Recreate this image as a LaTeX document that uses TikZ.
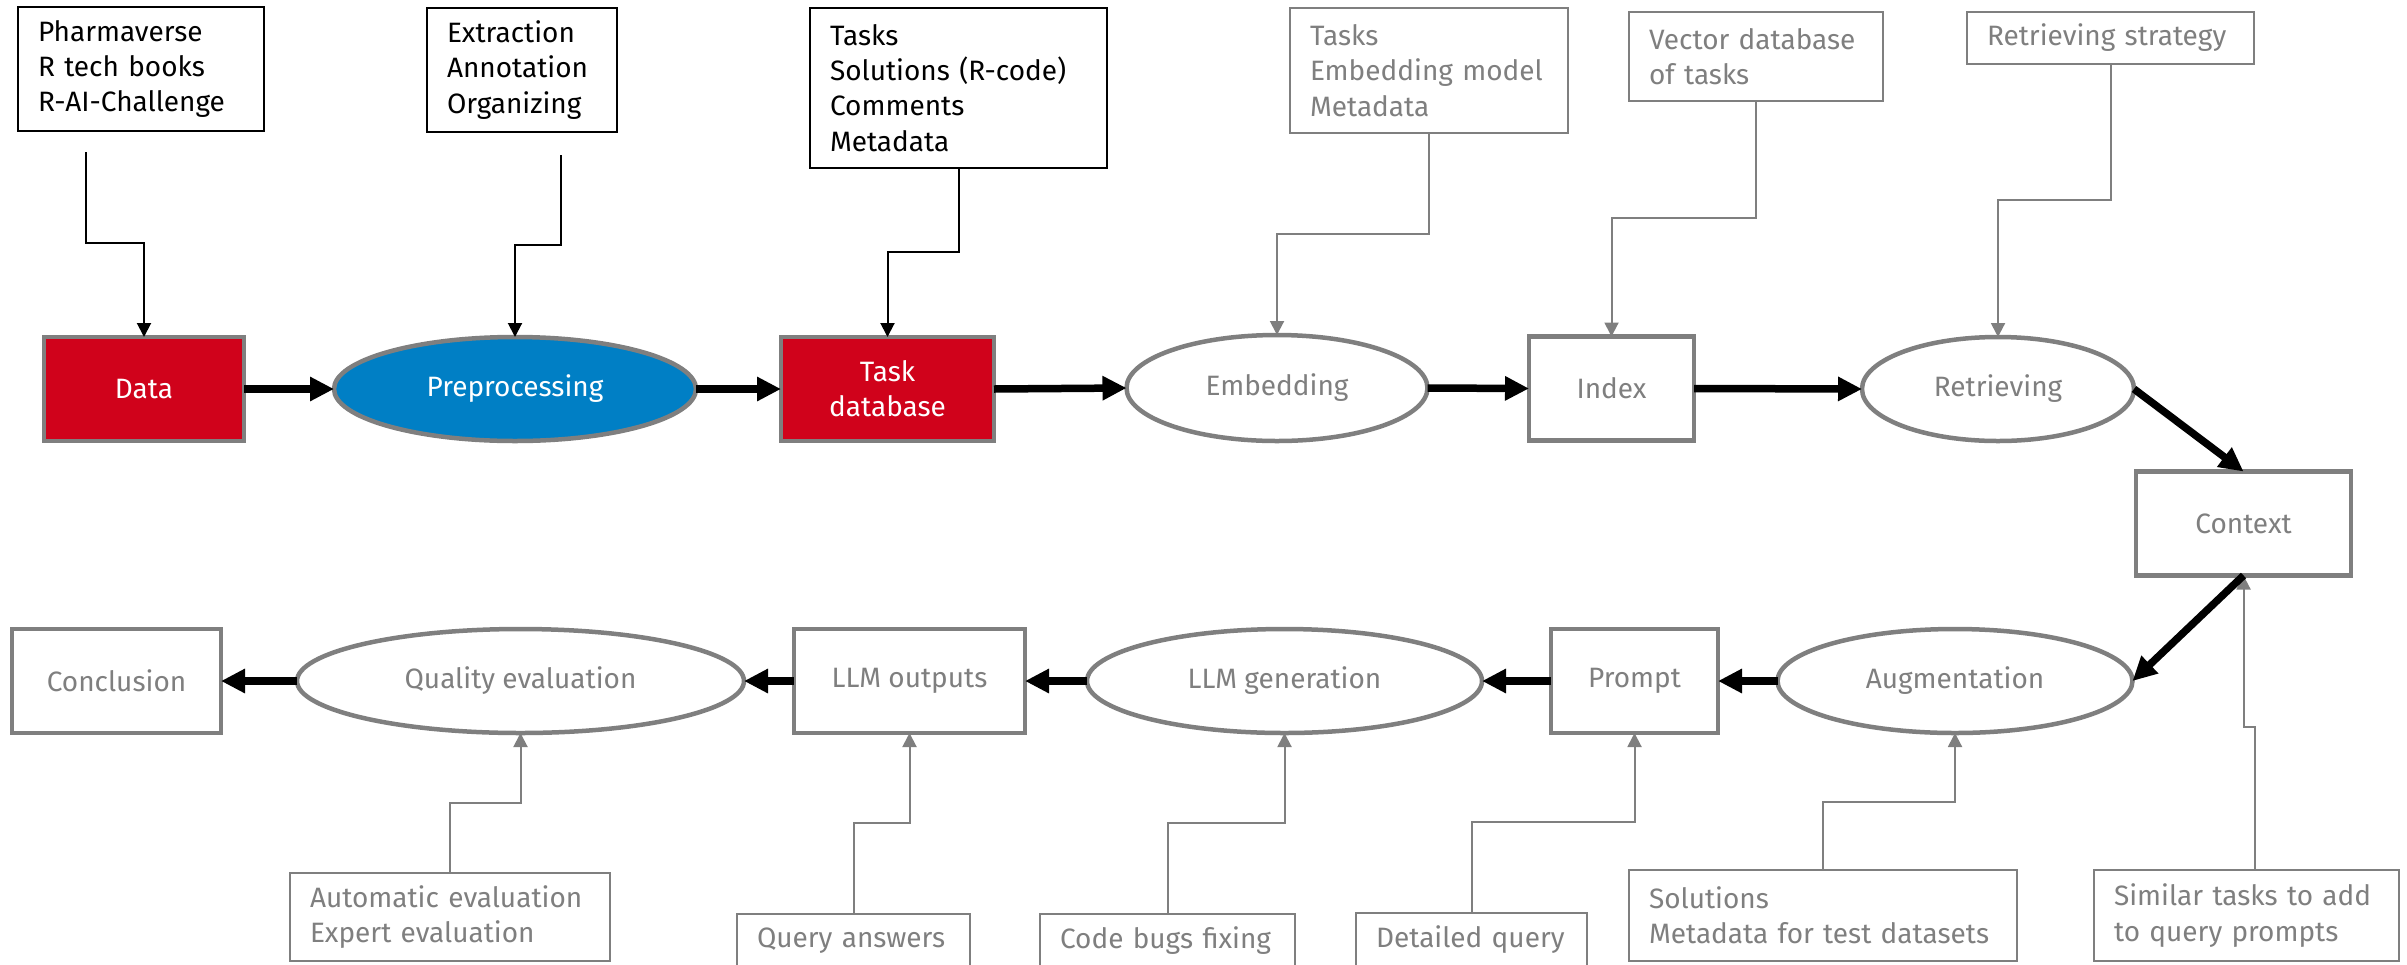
\documentclass[tikz,border=0pt]{standalone}
\usepackage{fontspec}
\setmainfont{Fira Sans}
\usetikzlibrary{arrows.meta,shapes.geometric,calc}

\definecolor{ragred}{HTML}{D0021B}
\definecolor{ragblue}{HTML}{007FC5}
\definecolor{midgray}{HTML}{7F7F7F}

\begin{document}
\begin{tikzpicture}[x=0.5pt,y=-0.5pt,
  font=\fontsize{14pt}{17.6pt}\selectfont,
  stage/.style={draw=midgray, line width=2.25pt, minimum height=52pt,
    inner sep=0pt, outer sep=0pt, align=center},
  graybox/.style={stage, rectangle, fill=white, text=midgray},
  grayell/.style={stage, ellipse, fill=white, text=midgray},
  redbox/.style={stage, rectangle, fill=ragred, text=white},
  blueell/.style={stage, ellipse, fill=ragblue, text=white},
  note/.style={draw=black, line width=1pt, fill=white, anchor=north west,
    inner xsep=10pt, inner ysep=0pt, outer sep=0pt, align=left},
  graynote/.style={note, draw=midgray, text=midgray},
  flow/.style={line width=3.75pt, -{Triangle[length=12pt,width=11.5pt]}},
  feed/.style={line width=1pt, -{Triangle[length=7pt,width=7pt]}},
  grayfeed/.style={feed, draw=midgray},
]
\useasboundingbox (0,0) rectangle (2407,964);
\clip (0,0) rectangle (2407,964);

% ---- main pipeline, upper row ----
\node[redbox,  minimum width=100pt]   (data)    at (144,389)    {Data};
\node[blueell, minimum width=181pt]   (prep)    at (515,389)    {Preprocessing};
\node[redbox,  minimum width=106.5pt] (taskdb)  at (887.5,389)  {Task\\database};
\node[grayell, minimum width=150.5pt, minimum height=53pt] (embed) at (1277,388) {Embedding};
\node[graybox, minimum width=82.5pt]  (index)   at (1611.5,388.5) {Index};
\node[grayell, minimum width=136pt]   (retr)    at (1998,389)   {Retrieving};
\node[graybox, minimum width=107.5pt] (context) at (2243.5,523.5) {Context};

% ---- main pipeline, lower row ----
\node[grayell, minimum width=177.5pt] (augm)    at (1955,681)   {Augmentation};
\node[graybox, minimum width=83.5pt]  (prompt)  at (1634.5,681) {Prompt};
\node[grayell, minimum width=197.5pt] (llmgen)  at (1284.5,681) {LLM generation};
\node[graybox, minimum width=115.5pt] (llmout)  at (909.5,681)  {LLM outputs};
\node[grayell, minimum width=223.5pt] (quality) at (520.5,681)  {Quality evaluation};
\node[graybox, minimum width=104.5pt] (concl)   at (116.5,681)  {Conclusion};

% ---- input notes above ----
\node[note, text width=103pt, minimum height=62pt] (b1) at (18,7)
  {Pharmaverse\\R tech books\\R-AI-Challenge};
\node[note, text width=75pt, minimum height=62pt] (b2) at (427,8)
  {Extraction\\Annotation\\Organizing};
\node[note, text width=128.5pt, minimum height=80pt] (b3) at (810,8)
  {Tasks\\Solutions (R-code)\\Comments\\Metadata};
\node[graynote, text width=119pt, minimum height=62.5pt] (g1) at (1290,8)
  {Tasks\\Embedding model\\Metadata};
\node[graynote, text width=107pt, minimum height=44.5pt] (g2) at (1629,12)
  {Vector database\\of tasks};
\node[graynote, text width=123.5pt, minimum height=26pt] (g3) at (1967,12)
  {Retrieving strategy};

% ---- input notes below ----
\node[graynote, text width=140pt, minimum height=44pt] (a1) at (290,873)
  {Automatic evaluation\\Expert evaluation};
\node[graynote, text width=96.5pt, minimum height=27pt] (a2) at (737,914)
  {Query answers};
\node[graynote, text width=107.5pt, minimum height=27pt] (a3) at (1040,914)
  {Code bugs fixing};
\node[graynote, text width=95.5pt, minimum height=27pt] (a4) at (1356,913)
  {Detailed query};
\node[graynote, text width=174pt, minimum height=45.5pt] (a5) at (1629,870)
  {Solutions\\Metadata for test datasets};
\node[graynote, text width=132.5pt, minimum height=45.5pt] (a6) at (2094,870)
  {Similar tasks to add\\to query prompts};

% free starting points of some feeder lines
\coordinate (b1out) at (86,152);
\coordinate (b2out) at (561,155);
\coordinate (a6out) at ($(a6.north)+(8.5,0)$);

% ---- feeder connectors ----
\draw[feed] (b1out) |- (data.north |- 0,243) -- (data.north);
\draw[feed] (b2out) |- (prep.north |- 0,245) -- (prep.north);
\draw[feed] (b3.south) |- (taskdb.north |- 0,252) -- (taskdb.north);
\draw[grayfeed] (g1.south) |- (embed.north |- 0,234) -- (embed.north);
\draw[grayfeed] (g2.south) |- (index.north |- 0,218) -- (index.north);
\draw[grayfeed] (g3.south) |- (retr.north |- 0,200) -- (retr.north);

\draw[grayfeed] (a1.north) |- (quality.south |- 0,803) -- (quality.south);
\draw[grayfeed] (a2.north) |- (llmout.south |- 0,823) -- (llmout.south);
\draw[grayfeed] (a3.north) |- (llmgen.south |- 0,823) -- (llmgen.south);
\draw[grayfeed] (a4.north) |- (prompt.south |- 0,822) -- (prompt.south);
\draw[grayfeed] (a5.north) |- (augm.south |- 0,802) -- (augm.south);
\draw[grayfeed] (a6out) |- (context.south |- 0,727) -- (context.south);

% ---- pipeline flow ----
\draw[flow] (data.east) -- (prep.west);
\draw[flow] (prep.east) -- (taskdb.west);
\draw[flow] (taskdb.east) -- (embed.west);
\draw[flow] (embed.east) -- (index.west);
\draw[flow] (index.east) -- (retr.west);
\draw[flow] (retr.east) -- (context.north);
\draw[flow] (context.south) -- (augm.east);
\draw[flow] (augm.west) -- (prompt.east);
\draw[flow] (prompt.west) -- (llmgen.east);
\draw[flow] (llmgen.west) -- (llmout.east);
\draw[flow] (llmout.west) -- (quality.east);
\draw[flow] (quality.west) -- (concl.east);
\end{tikzpicture}
\end{document}
